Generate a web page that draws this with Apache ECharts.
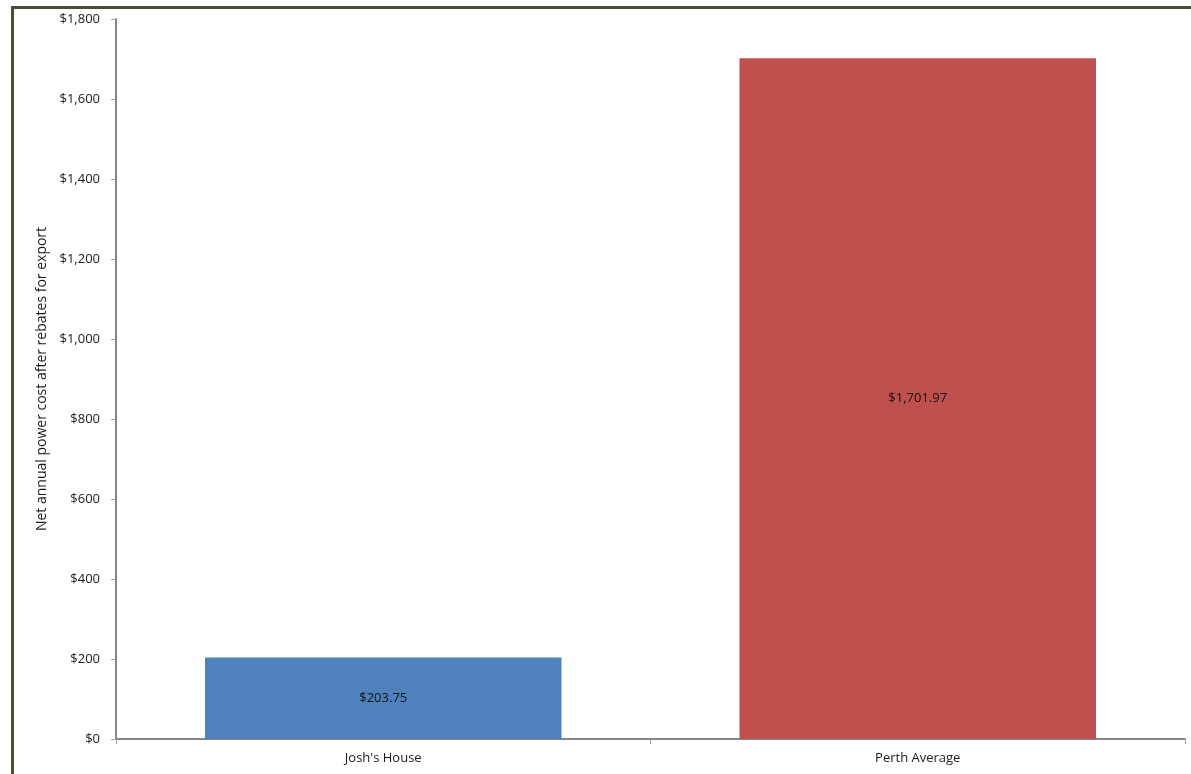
<!DOCTYPE html>
<html>
<head>
<meta charset="utf-8">
<script src="https://cdn.jsdelivr.net/npm/echarts@6/dist/echarts.min.js"></script>
<style>
  html, body { margin: 0; padding: 0; background: #fff; overflow: hidden; }
  #frame { position: absolute; left: 11px; top: 6px; width: 1200px; height: 800px;
           border-left: 3px solid #4b4b3c; border-top: 3px solid #4b4b3c; box-sizing: border-box; }
  #chart { position: absolute; left: 0; top: 0; width: 1191px; height: 774px; }
</style>
</head>
<body>
<div id="frame"></div>
<div id="chart"></div>
<script>
// Net annual power cost after export rebates, two households compared
const categories = ["Josh's House", "Perth Average"];
const costs = [203.75, 1701.97];
const barColors = ['#4F81BD', '#C0504D'];
const yTicks = { min: 0, max: 1800, interval: 200 };

const font = '"Open Sans", "Noto Sans", sans-serif';

const fmtAxis = v => '$' + v.toLocaleString('en-US');
const fmtLabel = v => '$' + v.toLocaleString('en-US', { minimumFractionDigits: 2, maximumFractionDigits: 2 });

const chart = echarts.init(document.getElementById('chart'), null, { renderer: 'canvas' });
chart.setOption({
  animation: false,
  grid: { left: 116, right: 6, top: 19, bottom: 35 },
  xAxis: {
    type: 'category',
    data: categories,
    axisLine: { lineStyle: { color: '#868686', width: 2 } },
    axisTick: { show: true, alignWithLabel: false, length: 5, lineStyle: { color: '#a0a0a0' } },
    axisLabel: { color: '#1a1a1a', fontFamily: font, fontSize: 13, margin: 13 }
  },
  yAxis: {
    type: 'value',
    min: yTicks.min, max: yTicks.max, interval: yTicks.interval,
    name: 'Net annual power cost after rebates for export',
    nameLocation: 'middle',
    nameGap: 63,
    nameTextStyle: { color: '#1a1a1a', fontFamily: font, fontSize: 14 },
    axisLine: { show: true, lineStyle: { color: '#868686', width: 2 } },
    axisTick: { show: true, length: 5, lineStyle: { color: '#a0a0a0' } },
    splitLine: { show: false },
    axisLabel: { color: '#1a1a1a', fontFamily: font, fontSize: 13, margin: 16, formatter: fmtAxis }
  },
  series: [{
    type: 'bar',
    data: costs.map((v, i) => ({ value: v, itemStyle: { color: barColors[i] } })),
    barCategoryGap: '33.3%',
    label: {
      show: true,
      position: 'inside',
      color: '#111',
      fontFamily: font,
      fontSize: 13,
      formatter: p => fmtLabel(p.value)
    }
  }]
});
</script>
</body>
</html>
